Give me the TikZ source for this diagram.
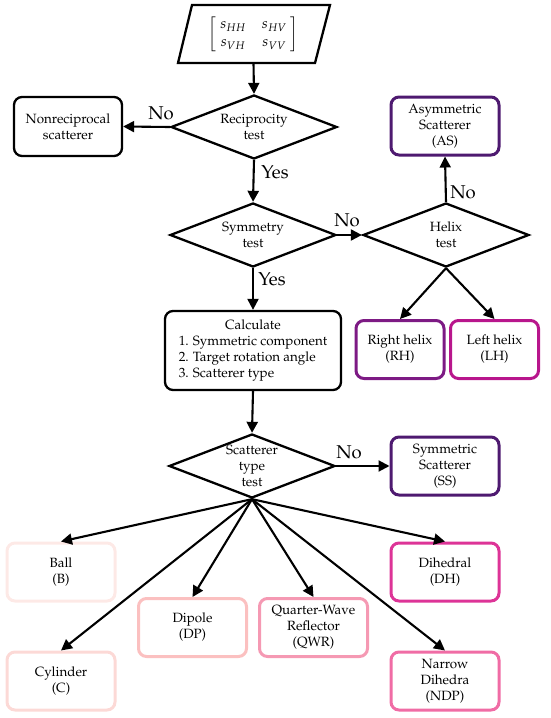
\documentclass[tikz,border=0pt]{standalone}
\usepackage[T1]{fontenc}
\usepackage{amsmath}
\usepackage{mathpazo}
\usetikzlibrary{shapes.geometric,arrows.meta}
\definecolor{cball}{HTML}{FDE9E6}
\definecolor{ccyl}{HTML}{FCD9D6}
\definecolor{cdp}{HTML}{FBC0C0}
\definecolor{cqwr}{HTML}{F599B3}
\definecolor{cndp}{HTML}{F06CA5}
\definecolor{cdh}{HTML}{DD3497}
\definecolor{clh}{HTML}{B8168C}
\definecolor{crh}{HTML}{7D1A84}
\definecolor{cas}{HTML}{4E1A70}
\newcommand{\fsz}{\fontsize{13.4}{16}\selectfont}
\newcommand{\flab}{\fontsize{18.5}{20}\selectfont}
\newcommand{\smat}{\setlength{\arraycolsep}{8pt}\renewcommand{\arraystretch}{1.05}$\left[\;\begin{matrix} s_{HH} & s_{HV}\\ s_{VH} & s_{VV}\end{matrix}\;\right]$}
\begin{document}
\begin{tikzpicture}[x=1pt,y=-1pt,
  box/.style={draw, line width=2.3pt, rounded corners=8pt, minimum width=108pt, minimum height=58pt, align=center, inner sep=2pt, font=\fsz},
  cbox/.style={box, line width=3pt},
  dia/.style={draw, diamond, line width=2.3pt, minimum width=166pt, minimum height=64pt, inner sep=0pt, label={[font=\fsz, align=center]center:#1}},
  arr/.style={line width=2.1pt, -{Triangle[length=11pt,width=11pt]}},
  lab/.style={font=\flab, inner sep=0pt}]
\useasboundingbox (0,0) rectangle (550,718);
% input
\node[minimum width=137pt, minimum height=58pt, inner sep=0pt, font=\fontsize{14.5}{17}\selectfont] (in) at (253.5,34) {\smat};
\draw[line width=2.3pt, line join=miter] (178,63) -- (192,5) -- (330,5) -- (315,63) -- cycle;
% diamonds
\node[dia={Reciprocity\\test}] (rec) at (254,127) {};
\node[dia={Symmetry\\test}] (sym) at (253,235) {};
\node[dia={Helix\\test}] (hel) at (446,235) {};
\node[dia={Scatterer\\type\\test}] (sct) at (252,466) {};
% boxes
\node[box, minimum width=108pt, minimum height=59pt] (nonrec) at (68,126.5) {Nonreciprocal\\scatterer};
\node[cbox, draw=cas, minimum width=108pt] (as) at (445,126) {Asymmetric\\Scatterer\\(AS)};
\node[cbox, draw=crh, minimum width=88pt] (rh) at (400,349.5) {Right helix\\(RH)};
\node[cbox, draw=clh, minimum width=88pt] (lh) at (494.5,349.5) {Left helix\\(LH)};
\node[box, minimum width=176pt, minimum height=79pt] (calc) at (253,350.5) {\begin{tabular}{@{}l@{}}\multicolumn{1}{@{}c@{}}{Calculate}\\ 1. Symmetric component\\ 2. Target rotation angle\\ 3. Scatterer type\end{tabular}};
\node[cbox, draw=cas] (ss) at (445,466) {Symmetric\\Scatterer\\(SS)};
\node[cbox, draw=cball] (ball) at (61,572) {Ball\\(B)};
\node[cbox, draw=cdh] (dh) at (445,572) {Dihedral\\(DH)};
\node[cbox, draw=cdp] (dp) at (192.5,627.5) {Dipole\\(DP)};
\node[cbox, draw=cqwr] (qwr) at (313.5,627.5) {Quarter-Wave\\Reflector\\(QWR)};
\node[cbox, draw=ccyl] (cyl) at (61,681) {Cylinder\\(C)};
\node[cbox, draw=cndp] (ndp) at (445,681) {Narrow\\Dihedra\\(NDP)};
% connectors
\draw[arr] (in.south) -- (rec.north);
\draw[arr] (rec.west) -- (nonrec.east);
\draw[arr] (rec.south) -- (sym.north);
\draw[arr] (sym.east) -- (hel.west);
\draw[arr] (hel.north) -- (as.south);
\draw[arr] (hel.south) -- (rh.north);
\draw[arr] (hel.south) -- (lh.north);
\draw[arr] (sym.south) -- (calc.north);
\draw[arr] (calc.south) -- (sct.north);
\draw[arr] (sct.east) -- (ss.west);
\draw[arr] (sct.south) -- (ball.north);
\draw[arr] (sct.south) -- (cyl.north);
\draw[arr] (sct.south) -- (dp.north);
\draw[arr] (sct.south) -- (qwr.north);
\draw[arr] (sct.south) -- (ndp.north);
\draw[arr] (sct.south) -- (dh.north);
% labels
\node[lab] (l1) at (161,113) {No};
\node[lab] (l2) at (275,172) {Yes};
\node[lab] (l3) at (347,220) {No};
\node[lab] (l4) at (463,192) {No};
\node[lab] (l5) at (272,279) {Yes};
\node[lab] (l6) at (349,452) {No};
\end{tikzpicture}
\end{document}
